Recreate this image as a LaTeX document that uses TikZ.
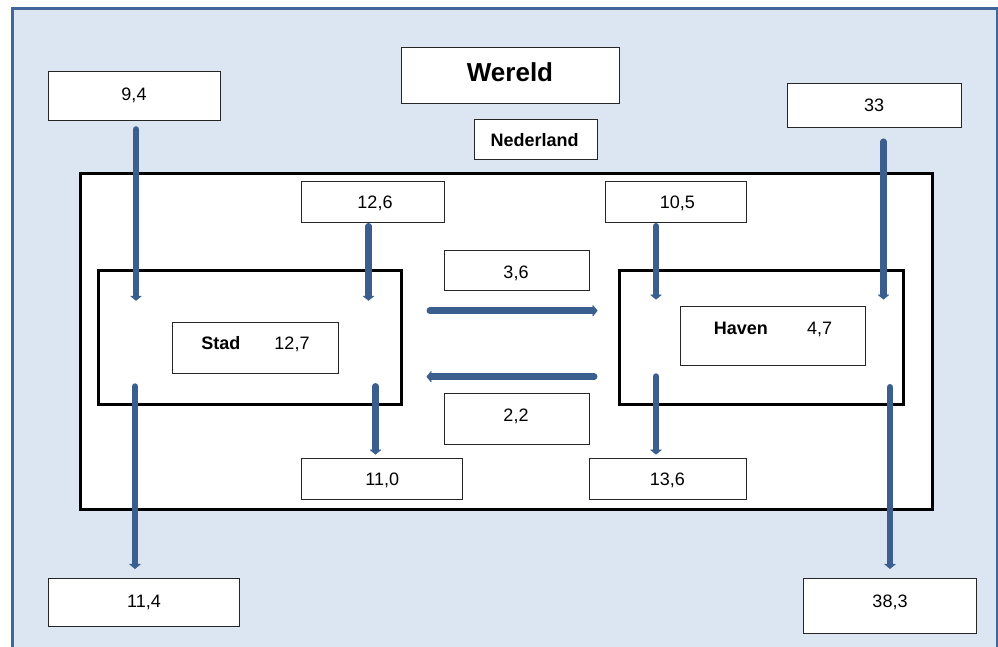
\documentclass[tikz,border=0pt]{standalone}
\usepackage{fontspec}
\setmainfont{Liberation Sans}
\usetikzlibrary{arrows.meta}
\definecolor{bgblue}{HTML}{DCE6F2}
\definecolor{frameblue}{HTML}{41669C}
\definecolor{flowblue}{HTML}{3A5F8F}
\tikzset{
  box/.style={draw=black!85, fill=white, line width=0.9pt, inner sep=0pt},
  region/.style={draw=black, fill=white, line width=3pt, inner sep=0pt},
  flow/.style={draw=flowblue, line width=6.5pt, line cap=round,
    -{Triangle[width=12pt,length=5pt,line width=0.5pt,round]}},
  num/.style={font=\fontsize{18}{20}\selectfont, anchor=base, inner sep=0pt},
  head/.style={font=\bfseries\fontsize{18}{20}\selectfont, anchor=base, inner sep=0pt},
  title/.style={font=\bfseries\fontsize{26}{30}\selectfont, anchor=base, inner sep=0pt},
}
\begin{document}
\begin{tikzpicture}[x=1pt, y=-1pt]
\useasboundingbox (0,0) rectangle (998,646);
% outer frame
\draw[fill=bgblue, draw=frameblue, line width=3pt] (12.5,8) rectangle (997,662);

% regions
\node[region, minimum width=852pt, minimum height=336pt] (nl) at (506,341) {};
\node[region, minimum width=303.4pt, minimum height=133.6pt] (stadreg) at (250,337.5) {};
\node[region, minimum width=284pt, minimum height=134.3pt] (havenreg) at (761.3,337.2) {};

% text boxes
\node[box, minimum width=218pt, minimum height=56pt] (wereld) at (510,75.3) {};
\node[box, minimum width=123.3pt, minimum height=39.7pt] (nederland) at (535.7,139.2) {};
\node[box, minimum width=172.4pt, minimum height=49pt] (b94) at (134.5,95.5) {};
\node[box, minimum width=174pt, minimum height=44.4pt] (b33) at (874,105.5) {};
\node[box, minimum width=142.6pt, minimum height=40.6pt] (b126) at (373,202) {};
\node[box, minimum width=140.3pt, minimum height=40.6pt] (b105) at (675.9,202) {};
\node[box, minimum width=144.7pt, minimum height=40pt] (b36) at (516.7,270) {};
\node[box, minimum width=144.7pt, minimum height=50.7pt] (b22) at (516.7,418.7) {};
\node[box, minimum width=165.6pt, minimum height=51pt] (stadbox) at (255.5,347.8) {};
\node[box, minimum width=184.3pt, minimum height=58.3pt] (havenbox) at (772.9,335.9) {};
\node[box, minimum width=161pt, minimum height=41pt] (b110) at (382.2,478.8) {};
\node[box, minimum width=157pt, minimum height=41pt] (b136) at (667.5,478.8) {};
\node[box, minimum width=191pt, minimum height=47.7pt] (b114) at (143.8,602.2) {};
\node[box, minimum width=173pt, minimum height=55pt] (b383) at (890.2,605.8) {};

% labels
\node[title] (twereld) at (510,81.6) {Wereld};
\node[head] (tned) at (534.7,146.4) {Nederland};
\node[num] (t94) at (134,100.1) {9,4};
\node[num] (t33) at (874,111.4) {33};
\node[num] (t126) at (375,208.7) {12,6};
\node[num] (t105) at (677.3,208.7) {10,5};
\node[num] (t36) at (516,278.7) {3,6};
\node[num] (t22) at (516,421.4) {2,2};
\node[head] (tstad) at (220.8,349.7) {Stad};
\node[num] (t127) at (292,349.7) {12,7};
\node[head] (thaven) at (740.8,334.7) {Haven};
\node[num] (t47) at (819.5,334.7) {4,7};
\node[num] (t110) at (382.3,485.7) {11,0};
\node[num] (t136) at (667.3,485.7) {13,6};
\node[num] (t114) at (144,607.4) {11,4};
\node[num] (t383) at (890,607.1) {38,3};

% flows into the city and the port
\coordinate (c1) at (136,300.7);
\coordinate (c2) at (368.5,300.7);
\coordinate (c3) at (656,299.5);
\coordinate (c4) at (883.5,299.5);
\draw[flow, shorten <=9pt] (b94.south -| c1) -- (c1);
\draw[flow, shorten <=3.5pt] (b126.south -| c2) -- (c2);
\draw[flow, shorten <=3.5pt] (b105.south -| c3) -- (c3);
\draw[flow, shorten <=13.5pt] (b33.south -| c4) -- (c4);

% exchange between city and port
\coordinate (h1) at (500,310.7);
\coordinate (h2) at (500,376.7);
\draw[flow, shorten <=26.6pt, shorten >=20.3pt] (stadreg.east |- h1) -- (havenreg.west |- h1);
\draw[flow, shorten <=23.6pt, shorten >=23.3pt] (havenreg.west |- h2) -- (stadreg.east |- h2);

% flows out of the city and the port
\coordinate (c7) at (135,386.5);
\coordinate (c8) at (375.5,386.3);
\coordinate (c9) at (656,376.5);
\coordinate (c10) at (890,387.2);
\draw[flow, shorten >=9pt] (c7) -- (b114.north -| c7);
\draw[flow, shorten >=3.3pt] (c8) -- (b110.north -| c8);
\draw[flow, shorten >=3.3pt] (c9) -- (b136.north -| c9);
\draw[flow, shorten >=9pt] (c10) -- (b383.north -| c10);
\end{tikzpicture}
\end{document}
